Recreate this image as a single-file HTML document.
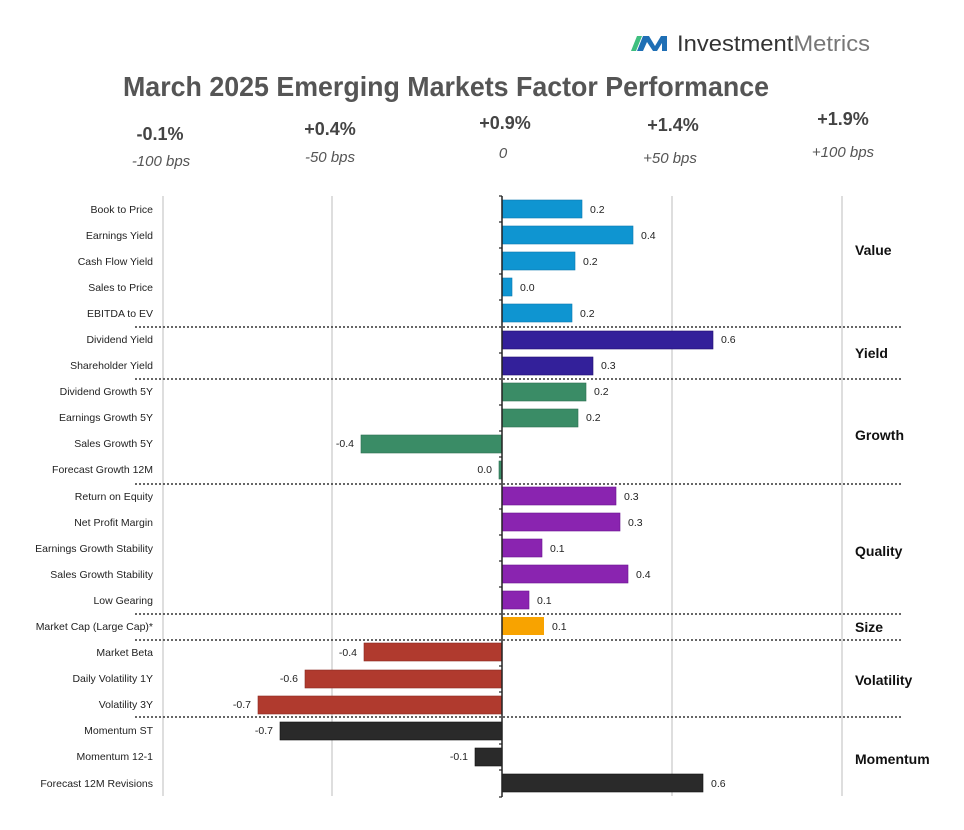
<!DOCTYPE html>
<html><head><meta charset="utf-8"><style>
html,body{margin:0;padding:0;background:#fff;}
svg{display:block;font-family:"Liberation Sans",Arial,sans-serif;}
</style></head><body>
<svg width="964" height="830" viewBox="0 0 964 830" xmlns="http://www.w3.org/2000/svg">
<rect width="964" height="830" fill="#fff"/>
<!-- logo -->
<polygon points="631,51 637,36 642,36 636,51" fill="#3fbf7f"/>
<polygon points="637,51 643,36 649,36 655,46 661,36 667,36 667,51 662,51 662,43 657,51 653,51 647,42 643,51" fill="#1f6fb5"/>
<text x="677" y="51" font-size="22" fill="#333" textLength="193" lengthAdjust="spacingAndGlyphs">Investment<tspan fill="#777">Metrics</tspan></text>
<!-- title -->
<text x="123" y="96" font-size="28" font-weight="bold" fill="#555" textLength="646" lengthAdjust="spacingAndGlyphs">March 2025 Emerging Markets Factor Performance</text>
<!-- header ticks -->
<g font-size="18" font-weight="bold" fill="#444" text-anchor="middle">
<text x="160" y="140">-0.1%</text>
<text x="330" y="135">+0.4%</text>
<text x="505" y="129">+0.9%</text>
<text x="673" y="131">+1.4%</text>
<text x="843" y="125">+1.9%</text>
</g>
<g font-size="15" font-style="italic" fill="#555" text-anchor="middle">
<text x="161" y="166">-100 bps</text>
<text x="330" y="162">-50 bps</text>
<text x="503" y="158">0</text>
<text x="670" y="163">+50 bps</text>
<text x="843" y="157">+100 bps</text>
</g>
<!-- gridlines -->
<g stroke="#c8c8c8" stroke-width="1.2">
<line x1="163" y1="196" x2="163" y2="796"/>
<line x1="332" y1="196" x2="332" y2="796"/>
<line x1="672" y1="196" x2="672" y2="796"/>
<line x1="842" y1="196" x2="842" y2="796"/>
</g>
<!-- separators -->
<g stroke="#333" stroke-width="1.5" stroke-dasharray="2,2">
<line x1="135" y1="327" x2="903" y2="327"/>
<line x1="135" y1="379" x2="903" y2="379"/>
<line x1="135" y1="484" x2="903" y2="484"/>
<line x1="135" y1="614" x2="903" y2="614"/>
<line x1="135" y1="640" x2="903" y2="640"/>
<line x1="135" y1="717" x2="903" y2="717"/>
</g>
<!-- bars -->
<g fill="#0f95d1" stroke="#0a7ab0" stroke-width="0.6">
<rect x="502" y="200" width="80" height="18"/>
<rect x="502" y="226" width="131" height="18"/>
<rect x="502" y="252" width="73" height="18"/>
<rect x="502" y="278" width="10" height="18"/>
<rect x="502" y="304" width="70" height="18"/>
</g>
<g fill="#33209a" stroke="#221070" stroke-width="0.6">
<rect x="502" y="331" width="211" height="18"/>
<rect x="502" y="357" width="91" height="18"/>
</g>
<g fill="#3a8c66" stroke="#2c6e50" stroke-width="0.6">
<rect x="502" y="383" width="84" height="18"/>
<rect x="502" y="409" width="76" height="18"/>
<rect x="361" y="435" width="141" height="18"/>
<rect x="499" y="461" width="3" height="18"/>
</g>
<g fill="#8a24b0" stroke="#6a1590" stroke-width="0.6">
<rect x="502" y="487" width="114" height="18"/>
<rect x="502" y="513" width="118" height="18"/>
<rect x="502" y="539" width="40" height="18"/>
<rect x="502" y="565" width="126" height="18"/>
<rect x="502" y="591" width="27" height="18"/>
</g>
<rect x="502" y="617" width="42" height="18" fill="#f8a300"/>
<g fill="#b03a2e" stroke="#8a2a20" stroke-width="0.6">
<rect x="364" y="643" width="138" height="18"/>
<rect x="305" y="670" width="197" height="18"/>
<rect x="258" y="696" width="244" height="18"/>
</g>
<g fill="#2a2a2a" stroke="#111" stroke-width="0.6">
<rect x="280" y="722" width="222" height="18"/>
<rect x="475" y="748" width="27" height="18"/>
<rect x="502" y="774" width="201" height="18"/>
</g>
<!-- axis -->
<line x1="502" y1="196" x2="502" y2="797" stroke="#222" stroke-width="1.5"/>
<g stroke="#222" stroke-width="1.2">
<line x1="499" y1="196" x2="502" y2="196"/><line x1="499" y1="222" x2="502" y2="222"/><line x1="499" y1="248" x2="502" y2="248"/><line x1="499" y1="274" x2="502" y2="274"/><line x1="499" y1="300" x2="502" y2="300"/><line x1="499" y1="353" x2="502" y2="353"/><line x1="499" y1="405" x2="502" y2="405"/><line x1="499" y1="431" x2="502" y2="431"/><line x1="499" y1="457" x2="502" y2="457"/><line x1="499" y1="509" x2="502" y2="509"/><line x1="499" y1="535" x2="502" y2="535"/><line x1="499" y1="561" x2="502" y2="561"/><line x1="499" y1="587" x2="502" y2="587"/><line x1="499" y1="666" x2="502" y2="666"/><line x1="499" y1="692" x2="502" y2="692"/><line x1="499" y1="744" x2="502" y2="744"/><line x1="499" y1="770" x2="502" y2="770"/><line x1="499" y1="797" x2="502" y2="797"/>
</g>
<!-- category labels -->
<g font-size="10.5" fill="#222" text-anchor="end">
<text x="153" y="213">Book to Price</text>
<text x="153" y="239">Earnings Yield</text>
<text x="153" y="265">Cash Flow Yield</text>
<text x="153" y="291">Sales to Price</text>
<text x="153" y="317">EBITDA to EV</text>
<text x="153" y="343">Dividend Yield</text>
<text x="153" y="369">Shareholder Yield</text>
<text x="153" y="395">Dividend Growth 5Y</text>
<text x="153" y="421">Earnings Growth 5Y</text>
<text x="153" y="447">Sales Growth 5Y</text>
<text x="153" y="473">Forecast Growth 12M</text>
<text x="153" y="500">Return on Equity</text>
<text x="153" y="526">Net Profit Margin</text>
<text x="153" y="552">Earnings Growth Stability</text>
<text x="153" y="578">Sales Growth Stability</text>
<text x="153" y="604">Low Gearing</text>
<text x="153" y="630">Market Cap (Large Cap)*</text>
<text x="153" y="656">Market Beta</text>
<text x="153" y="682">Daily Volatility 1Y</text>
<text x="153" y="708">Volatility 3Y</text>
<text x="153" y="734">Momentum ST</text>
<text x="153" y="760">Momentum 12-1</text>
<text x="153" y="787">Forecast 12M Revisions</text>
</g>
<!-- value labels -->
<g font-size="10.5" fill="#222">
<text x="590" y="213">0.2</text>
<text x="641" y="239">0.4</text>
<text x="583" y="265">0.2</text>
<text x="520" y="291">0.0</text>
<text x="580" y="317">0.2</text>
<text x="721" y="343">0.6</text>
<text x="601" y="369">0.3</text>
<text x="594" y="395">0.2</text>
<text x="586" y="421">0.2</text>
<text x="624" y="500">0.3</text>
<text x="628" y="526">0.3</text>
<text x="550" y="552">0.1</text>
<text x="636" y="578">0.4</text>
<text x="537" y="604">0.1</text>
<text x="552" y="630">0.1</text>
<text x="711" y="787">0.6</text>
</g>
<g font-size="10.5" fill="#222" text-anchor="end">
<text x="354" y="447">-0.4</text>
<text x="492" y="473">0.0</text>
<text x="357" y="656">-0.4</text>
<text x="298" y="682">-0.6</text>
<text x="251" y="708">-0.7</text>
<text x="273" y="734">-0.7</text>
<text x="468" y="760">-0.1</text>
</g>
<!-- group labels -->
<g font-size="14" font-weight="bold" fill="#111">
<text x="855" y="255">Value</text>
<text x="855" y="358">Yield</text>
<text x="855" y="440">Growth</text>
<text x="855" y="556">Quality</text>
<text x="855" y="632">Size</text>
<text x="855" y="685">Volatility</text>
<text x="855" y="764">Momentum</text>
</g>
</svg>
</body></html>
